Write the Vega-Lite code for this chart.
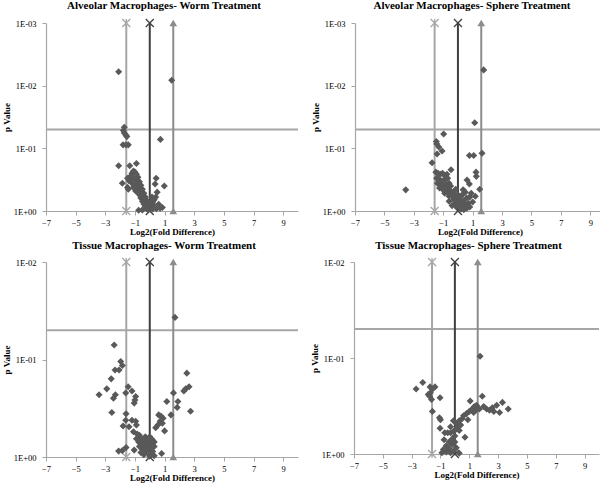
{
  "$schema": "https://vega.github.io/schema/vega-lite/v6.json",
  "background": "white",
  "padding": {"left": 2, "top": 0, "right": 0, "bottom": 0},
  "config": {
    "view": {"stroke": null},
    "title": {"font": "Liberation Serif", "fontSize": 11, "fontWeight": "bold", "color": "#000", "anchor": "middle", "dx": -8, "offset": 4},
    "axis": {"grid": false, "domainColor": "#a6a6a6", "domainWidth": 1.2, "tickColor": "#a6a6a6", "tickSize": 4, "labelFont": "Liberation Serif", "labelFontSize": 8.5, "labelColor": "#000", "titleFont": "Liberation Serif", "titleFontSize": 9, "titleFontWeight": "bold", "titleColor": "#000", "labelOverlap": false, "labelFlush": false, "labelBound": false},
    "axisX": {"labelPadding": 3, "titlePadding": 1},
    "axisY": {"labelPadding": 6, "titlePadding": 2}
  },
  "datasets": {
    "hline": [{"p": 0.05}],
    "vA": [
      {"x": -1.585, "p": 1, "s": "L"}, {"x": -1.585, "p": 0.001, "s": "L"},
      {"x": 0, "p": 1, "s": "M"}, {"x": 0, "p": 0.001, "s": "M"},
      {"x": 1.585, "p": 1, "s": "R"}, {"x": 1.585, "p": 0.001, "s": "R"}
    ],
    "vB": [
      {"x": -1.585, "p": 1, "s": "L"}, {"x": -1.585, "p": 0.01, "s": "L"},
      {"x": 0, "p": 1, "s": "M"}, {"x": 0, "p": 0.01, "s": "M"},
      {"x": 1.585, "p": 1, "s": "R"}, {"x": 1.585, "p": 0.01, "s": "R"}
    ],
    "amw": [
      {"x": -2.1, "p": 0.006}, {"x": 1.48, "p": 0.0082}, {"x": -1.72, "p": 0.046}, {"x": -1.78, "p": 0.052},
      {"x": -1.72, "p": 0.057}, {"x": -1.6, "p": 0.062}, {"x": -1.55, "p": 0.065}, {"x": -1.8, "p": 0.088},
      {"x": -1.6, "p": 0.088}, {"x": -1.45, "p": 0.088}, {"x": 0.72, "p": 0.072}, {"x": -2.1, "p": 0.19},
      {"x": -1.35, "p": 0.19}, {"x": -0.9, "p": 0.175}, {"x": -1.85, "p": 0.36}, {"x": -1.5, "p": 0.42},
      {"x": 0.43, "p": 0.3}, {"x": 0.36, "p": 0.37}, {"x": 0.98, "p": 0.4}, {"x": -1.45, "p": 0.45},
      {"x": -1.3, "p": 0.28}, {"x": -1.2, "p": 0.25}, {"x": -1.1, "p": 0.23}, {"x": -1.0, "p": 0.24},
      {"x": -0.9, "p": 0.26}, {"x": -1.25, "p": 0.32}, {"x": -1.1, "p": 0.3}, {"x": -0.95, "p": 0.31},
      {"x": -0.8, "p": 0.29}, {"x": -1.4, "p": 0.33}, {"x": -1.5, "p": 0.3}, {"x": -1.2, "p": 0.36},
      {"x": -1.0, "p": 0.37}, {"x": -0.85, "p": 0.35}, {"x": -0.7, "p": 0.34}, {"x": -1.1, "p": 0.42},
      {"x": -0.9, "p": 0.43}, {"x": -0.75, "p": 0.4}, {"x": -0.6, "p": 0.39}, {"x": -0.95, "p": 0.48},
      {"x": -0.8, "p": 0.5}, {"x": -0.65, "p": 0.47}, {"x": -0.5, "p": 0.45}, {"x": -0.7, "p": 0.55},
      {"x": -0.55, "p": 0.56}, {"x": -0.4, "p": 0.52}, {"x": -0.6, "p": 0.62}, {"x": -0.45, "p": 0.63},
      {"x": -0.3, "p": 0.6}, {"x": -0.5, "p": 0.7}, {"x": -0.35, "p": 0.7}, {"x": -0.2, "p": 0.68},
      {"x": -0.4, "p": 0.77}, {"x": -0.25, "p": 0.78}, {"x": -0.1, "p": 0.75}, {"x": -0.3, "p": 0.84},
      {"x": -0.15, "p": 0.85}, {"x": 0.0, "p": 0.82}, {"x": 0.1, "p": 0.78}, {"x": 0.2, "p": 0.72},
      {"x": 0.3, "p": 0.66}, {"x": 0.4, "p": 0.6}, {"x": 0.25, "p": 0.8}, {"x": 0.1, "p": 0.88},
      {"x": -0.05, "p": 0.9}, {"x": -0.2, "p": 0.92}, {"x": -0.75, "p": 0.97}, {"x": -0.5, "p": 0.96},
      {"x": -0.1, "p": 0.96}, {"x": 0.2, "p": 0.93}, {"x": 0.45, "p": 0.92}, {"x": 0.7, "p": 0.9},
      {"x": 0.85, "p": 0.88}, {"x": 0.6, "p": 0.78}, {"x": 0.5, "p": 0.5}, {"x": 0.15, "p": 0.6}
    ],
    "ams": [
      {"x": 1.75, "p": 0.0056}, {"x": 1.14, "p": 0.039}, {"x": -0.97, "p": 0.059}, {"x": -1.47, "p": 0.078},
      {"x": -1.44, "p": 0.085}, {"x": -1.42, "p": 0.123}, {"x": -1.08, "p": 0.11}, {"x": -1.3, "p": 0.095},
      {"x": 0.78, "p": 0.13}, {"x": 1.07, "p": 0.13}, {"x": 1.64, "p": 0.12}, {"x": -1.76, "p": 0.17},
      {"x": -3.55, "p": 0.46}, {"x": -0.47, "p": 0.22}, {"x": 1.23, "p": 0.24}, {"x": 1.25, "p": 0.28},
      {"x": 0.62, "p": 0.32}, {"x": 1.48, "p": 0.45}, {"x": 1.18, "p": 0.58}, {"x": 0.78, "p": 0.37},
      {"x": -1.5, "p": 0.24}, {"x": -1.35, "p": 0.25}, {"x": -1.2, "p": 0.26}, {"x": -1.05, "p": 0.25},
      {"x": -0.9, "p": 0.27}, {"x": -0.75, "p": 0.26}, {"x": -1.45, "p": 0.3}, {"x": -1.3, "p": 0.31},
      {"x": -1.1, "p": 0.33}, {"x": -0.95, "p": 0.32}, {"x": -0.7, "p": 0.3}, {"x": -1.4, "p": 0.36},
      {"x": -1.2, "p": 0.38}, {"x": -1.0, "p": 0.39}, {"x": -0.8, "p": 0.37}, {"x": -0.6, "p": 0.36},
      {"x": -1.25, "p": 0.43}, {"x": -1.05, "p": 0.45}, {"x": -0.85, "p": 0.44}, {"x": -0.65, "p": 0.42},
      {"x": -0.5, "p": 0.4}, {"x": -0.9, "p": 0.52}, {"x": -0.7, "p": 0.5}, {"x": -0.5, "p": 0.48},
      {"x": -0.3, "p": 0.5}, {"x": -0.6, "p": 0.58}, {"x": -0.4, "p": 0.57}, {"x": -0.2, "p": 0.55},
      {"x": 0.0, "p": 0.55}, {"x": -0.3, "p": 0.65}, {"x": -0.1, "p": 0.66}, {"x": 0.1, "p": 0.62},
      {"x": 0.3, "p": 0.55}, {"x": 0.5, "p": 0.5}, {"x": -0.2, "p": 0.75}, {"x": 0.0, "p": 0.74},
      {"x": 0.2, "p": 0.72}, {"x": 0.4, "p": 0.68}, {"x": 0.6, "p": 0.62}, {"x": 0.8, "p": 0.6},
      {"x": -0.1, "p": 0.84}, {"x": 0.1, "p": 0.85}, {"x": 0.3, "p": 0.82}, {"x": 0.5, "p": 0.8},
      {"x": 0.7, "p": 0.75}, {"x": 0.2, "p": 0.94}, {"x": 0.4, "p": 0.95}, {"x": 0.6, "p": 0.9},
      {"x": 0.8, "p": 0.86}, {"x": -0.4, "p": 0.82}, {"x": -0.6, "p": 0.7}, {"x": 1.0, "p": 0.72},
      {"x": 0.35, "p": 0.46}, {"x": -0.15, "p": 0.45}, {"x": 0.9, "p": 0.52}
    ],
    "tmw": [
      {"x": 1.7, "p": 0.037}, {"x": -2.4, "p": 0.071}, {"x": -1.96, "p": 0.105}, {"x": -1.85, "p": 0.115},
      {"x": -2.34, "p": 0.128}, {"x": -2.07, "p": 0.128}, {"x": -2.6, "p": 0.158}, {"x": 2.5, "p": 0.138},
      {"x": -1.46, "p": 0.19}, {"x": -1.2, "p": 0.21}, {"x": -1.62, "p": 0.22}, {"x": -2.9, "p": 0.2},
      {"x": -3.42, "p": 0.23}, {"x": -2.32, "p": 0.23}, {"x": -2.45, "p": 0.25}, {"x": -0.95, "p": 0.24},
      {"x": -1.05, "p": 0.28}, {"x": -1.0, "p": 0.26}, {"x": -2.56, "p": 0.35}, {"x": -1.6, "p": 0.36},
      {"x": 2.43, "p": 0.2}, {"x": 2.65, "p": 0.19}, {"x": 2.3, "p": 0.21}, {"x": 1.6, "p": 0.22},
      {"x": 1.9, "p": 0.27}, {"x": 1.85, "p": 0.31}, {"x": 1.15, "p": 0.27}, {"x": 2.75, "p": 0.34},
      {"x": 1.43, "p": 0.37}, {"x": 0.6, "p": 0.37}, {"x": 0.75, "p": 0.38}, {"x": 0.9, "p": 0.4},
      {"x": 0.7, "p": 0.43}, {"x": 0.85, "p": 0.45}, {"x": 0.55, "p": 0.47}, {"x": 1.0, "p": 0.54},
      {"x": 0.4, "p": 0.5}, {"x": -1.62, "p": 0.42}, {"x": -1.2, "p": 0.42}, {"x": -0.95, "p": 0.43},
      {"x": -1.8, "p": 0.48}, {"x": -1.4, "p": 0.49}, {"x": -0.9, "p": 0.47}, {"x": -1.1, "p": 0.55},
      {"x": -0.85, "p": 0.58}, {"x": -0.7, "p": 0.6}, {"x": -0.6, "p": 0.64}, {"x": -0.5, "p": 0.68},
      {"x": -0.4, "p": 0.7}, {"x": -0.9, "p": 0.65}, {"x": -0.75, "p": 0.7}, {"x": -0.55, "p": 0.75},
      {"x": -0.3, "p": 0.62}, {"x": -0.2, "p": 0.66}, {"x": 0.0, "p": 0.62}, {"x": 0.15, "p": 0.66},
      {"x": -0.1, "p": 0.72}, {"x": 0.1, "p": 0.74}, {"x": 0.3, "p": 0.7}, {"x": -0.3, "p": 0.78},
      {"x": -0.1, "p": 0.8}, {"x": 0.1, "p": 0.82}, {"x": 0.3, "p": 0.78}, {"x": -0.5, "p": 0.83},
      {"x": -0.25, "p": 0.86}, {"x": 0.0, "p": 0.9}, {"x": 0.2, "p": 0.88}, {"x": -0.7, "p": 0.78},
      {"x": -2.1, "p": 0.87}, {"x": -1.85, "p": 0.86}, {"x": -1.6, "p": 0.8}, {"x": -1.05, "p": 0.85},
      {"x": -0.6, "p": 0.9}, {"x": 0.0, "p": 0.98}, {"x": 0.3, "p": 0.97}, {"x": 0.8, "p": 0.92},
      {"x": -0.4, "p": 0.95}
    ],
    "tms": [
      {"x": 1.75, "p": 0.096}, {"x": -2.69, "p": 0.21}, {"x": -2.23, "p": 0.18}, {"x": -1.72, "p": 0.2},
      {"x": -1.38, "p": 0.2}, {"x": -1.55, "p": 0.21}, {"x": -1.85, "p": 0.24}, {"x": -1.75, "p": 0.25},
      {"x": -1.62, "p": 0.27}, {"x": -1.7, "p": 0.23}, {"x": -1.03, "p": 0.26}, {"x": -1.56, "p": 0.36},
      {"x": -1.07, "p": 0.42}, {"x": -1.03, "p": 0.54}, {"x": -0.75, "p": 0.71}, {"x": -0.7, "p": 0.6},
      {"x": -0.5, "p": 0.6}, {"x": -0.3, "p": 0.6}, {"x": -0.1, "p": 0.58}, {"x": 0.1, "p": 0.55},
      {"x": -0.1, "p": 0.45}, {"x": 0.1, "p": 0.48}, {"x": 0.3, "p": 0.45}, {"x": 0.5, "p": 0.43},
      {"x": 0.6, "p": 0.4}, {"x": 0.8, "p": 0.38}, {"x": 1.0, "p": 0.36}, {"x": 1.06, "p": 0.28},
      {"x": 1.2, "p": 0.34}, {"x": 1.35, "p": 0.32}, {"x": 1.5, "p": 0.31}, {"x": 1.6, "p": 0.33},
      {"x": 1.45, "p": 0.35}, {"x": 1.3, "p": 0.37}, {"x": 1.7, "p": 0.34}, {"x": 1.9, "p": 0.25},
      {"x": 2.0, "p": 0.32}, {"x": 2.2, "p": 0.34}, {"x": 2.4, "p": 0.35}, {"x": 2.6, "p": 0.33},
      {"x": 2.9, "p": 0.31}, {"x": 3.3, "p": 0.29}, {"x": 3.7, "p": 0.34}, {"x": 3.1, "p": 0.37},
      {"x": 2.7, "p": 0.36}, {"x": 0.3, "p": 0.57}, {"x": 0.7, "p": 0.67}, {"x": 0.2, "p": 0.52},
      {"x": 0.4, "p": 0.5}, {"x": 0.0, "p": 0.65}, {"x": -0.2, "p": 0.7}, {"x": -0.4, "p": 0.75},
      {"x": -0.6, "p": 0.82}, {"x": -0.8, "p": 0.9}, {"x": -0.9, "p": 0.97}, {"x": -0.6, "p": 0.95},
      {"x": -0.4, "p": 0.88}, {"x": -0.2, "p": 0.8}, {"x": 0.0, "p": 0.75}, {"x": -0.3, "p": 0.97},
      {"x": -0.1, "p": 0.93}, {"x": 0.1, "p": 0.86}, {"x": 0.3, "p": 0.98}, {"x": -1.0, "p": 0.44},
      {"x": -0.3, "p": 0.52}, {"x": 0.9, "p": 0.44}
    ]
  },
  "vconcat": [
    {
      "hconcat": [
        {
          "title": {"text": "Alveolar Macrophages- Worm Treatment", "offset": 5},
          "width": 252, "height": 188,
          "layer": [
            {"data": {"name": "hline"}, "mark": {"type": "rule", "color": "#a6a6a6", "strokeWidth": 2},
             "encoding": {"y": {"field": "p", "type": "quantitative", "scale": {"type": "log", "domain": [0.001, 1], "reverse": true, "nice": false}, "axis": {"values": [0.001, 0.01, 0.1, 1], "tickCount": 10, "labelExpr": "datum.value < 0.005 ? '1E-03' : datum.value < 0.05 ? '1E-02' : datum.value < 0.5 ? '1E-01' : '1E+00'", "title": "p Value"}}}},
            {"data": {"name": "vA"}, "mark": {"type": "line", "strokeWidth": 2},
             "encoding": {"x": {"field": "x", "type": "quantitative", "scale": {"domain": [-7, 10], "nice": false, "zero": false}, "axis": {"values": [-7, -5, -3, -1, 1, 3, 5, 7, 9], "tickCount": 20, "labelOverlap": false, "title": "Log2(Fold Difference)"}},
                          "y": {"field": "p", "type": "quantitative"},
                          "color": {"field": "s", "type": "nominal", "scale": {"domain": ["L", "M", "R"], "range": ["#a6a6a6", "#3f3f3f", "#8c8c8c"]}, "legend": null}}},
            {"data": {"name": "vA"}, "transform": [{"filter": "datum.s !== 'R'"}],
             "mark": {"type": "point", "filled": false, "strokeWidth": 1.3, "size": 64, "opacity": 1},
             "encoding": {"x": {"field": "x", "type": "quantitative"}, "y": {"field": "p", "type": "quantitative"},
                          "shape": {"field": "s", "type": "nominal", "scale": {"domain": ["L", "M"], "range": ["M-1,-1L1,1M-1,1L1,-1M0,-1L0,1", "M-1,-1L1,1M-1,1L1,-1"]}, "legend": null},
                          "color": {"field": "s", "type": "nominal", "legend": null}}},
            {"data": {"name": "vA"}, "transform": [{"filter": "datum.s === 'R'"}],
             "mark": {"type": "point", "filled": true, "shape": "triangle-up", "size": 60, "opacity": 1, "color": "#8c8c8c"},
             "encoding": {"x": {"field": "x", "type": "quantitative"}, "y": {"field": "p", "type": "quantitative"}}},
            {"data": {"name": "amw"}, "mark": {"type": "point", "shape": "diamond", "filled": true, "size": 50, "opacity": 1, "color": "#595959"},
             "encoding": {"x": {"field": "x", "type": "quantitative"}, "y": {"field": "p", "type": "quantitative"}}}
          ]
        },
        {
          "title": {"text": "Alveolar Macrophages- Sphere Treatment", "offset": 5},
          "width": 250, "height": 188,
          "layer": [
            {"data": {"name": "hline"}, "mark": {"type": "rule", "color": "#a6a6a6", "strokeWidth": 2},
             "encoding": {"y": {"field": "p", "type": "quantitative", "scale": {"type": "log", "domain": [0.001, 1], "reverse": true, "nice": false}, "axis": {"values": [0.001, 0.01, 0.1, 1], "tickCount": 10, "labelExpr": "datum.value < 0.005 ? '1E-03' : datum.value < 0.05 ? '1E-02' : datum.value < 0.5 ? '1E-01' : '1E+00'", "title": "p Value"}}}},
            {"data": {"name": "vA"}, "mark": {"type": "line", "strokeWidth": 2},
             "encoding": {"x": {"field": "x", "type": "quantitative", "scale": {"domain": [-7, 10], "nice": false, "zero": false}, "axis": {"values": [-7, -5, -3, -1, 1, 3, 5, 7, 9], "tickCount": 20, "labelOverlap": false, "title": "Log2(Fold Difference)"}},
                          "y": {"field": "p", "type": "quantitative"},
                          "color": {"field": "s", "type": "nominal", "scale": {"domain": ["L", "M", "R"], "range": ["#a6a6a6", "#3f3f3f", "#8c8c8c"]}, "legend": null}}},
            {"data": {"name": "vA"}, "transform": [{"filter": "datum.s !== 'R'"}],
             "mark": {"type": "point", "filled": false, "strokeWidth": 1.3, "size": 64, "opacity": 1},
             "encoding": {"x": {"field": "x", "type": "quantitative"}, "y": {"field": "p", "type": "quantitative"},
                          "shape": {"field": "s", "type": "nominal", "scale": {"domain": ["L", "M"], "range": ["M-1,-1L1,1M-1,1L1,-1M0,-1L0,1", "M-1,-1L1,1M-1,1L1,-1"]}, "legend": null},
                          "color": {"field": "s", "type": "nominal", "legend": null}}},
            {"data": {"name": "vA"}, "transform": [{"filter": "datum.s === 'R'"}],
             "mark": {"type": "point", "filled": true, "shape": "triangle-up", "size": 60, "opacity": 1, "color": "#8c8c8c"},
             "encoding": {"x": {"field": "x", "type": "quantitative"}, "y": {"field": "p", "type": "quantitative"}}},
            {"data": {"name": "ams"}, "mark": {"type": "point", "shape": "diamond", "filled": true, "size": 50, "opacity": 1, "color": "#595959"},
             "encoding": {"x": {"field": "x", "type": "quantitative"}, "y": {"field": "p", "type": "quantitative"}}}
          ]
        }
      ],
      "spacing": 12
    },
    {
      "hconcat": [
        {
          "title": "Tissue Macrophages- Worm Treatment",
          "width": 252, "height": 195,
          "layer": [
            {"data": {"name": "hline"}, "mark": {"type": "rule", "color": "#a6a6a6", "strokeWidth": 2},
             "encoding": {"y": {"field": "p", "type": "quantitative", "scale": {"type": "log", "domain": [0.01, 1], "reverse": true, "nice": false}, "axis": {"values": [0.01, 0.1, 1], "tickCount": 10, "labelExpr": "datum.value < 0.05 ? '1E-02' : datum.value < 0.5 ? '1E-01' : '1E+00'", "title": "p Value"}}}},
            {"data": {"name": "vB"}, "mark": {"type": "line", "strokeWidth": 2},
             "encoding": {"x": {"field": "x", "type": "quantitative", "scale": {"domain": [-7, 10], "nice": false, "zero": false}, "axis": {"values": [-7, -5, -3, -1, 1, 3, 5, 7, 9], "tickCount": 20, "labelOverlap": false, "title": "Log2(Fold Difference)"}},
                          "y": {"field": "p", "type": "quantitative"},
                          "color": {"field": "s", "type": "nominal", "scale": {"domain": ["L", "M", "R"], "range": ["#a6a6a6", "#3f3f3f", "#8c8c8c"]}, "legend": null}}},
            {"data": {"name": "vB"}, "transform": [{"filter": "datum.s !== 'R'"}],
             "mark": {"type": "point", "filled": false, "strokeWidth": 1.3, "size": 64, "opacity": 1},
             "encoding": {"x": {"field": "x", "type": "quantitative"}, "y": {"field": "p", "type": "quantitative"},
                          "shape": {"field": "s", "type": "nominal", "scale": {"domain": ["L", "M"], "range": ["M-1,-1L1,1M-1,1L1,-1M0,-1L0,1", "M-1,-1L1,1M-1,1L1,-1"]}, "legend": null},
                          "color": {"field": "s", "type": "nominal", "legend": null}}},
            {"data": {"name": "vB"}, "transform": [{"filter": "datum.s === 'R'"}],
             "mark": {"type": "point", "filled": true, "shape": "triangle-up", "size": 60, "opacity": 1, "color": "#8c8c8c"},
             "encoding": {"x": {"field": "x", "type": "quantitative"}, "y": {"field": "p", "type": "quantitative"}}},
            {"data": {"name": "tmw"}, "mark": {"type": "point", "shape": "diamond", "filled": true, "size": 50, "opacity": 1, "color": "#595959"},
             "encoding": {"x": {"field": "x", "type": "quantitative"}, "y": {"field": "p", "type": "quantitative"}}}
          ]
        },
        {
          "title": "Tissue Macrophages- Sphere Treatment",
          "width": 245, "height": 192,
          "layer": [
            {"data": {"name": "hline"}, "mark": {"type": "rule", "color": "#a6a6a6", "strokeWidth": 2},
             "encoding": {"y": {"field": "p", "type": "quantitative", "scale": {"type": "log", "domain": [0.01, 1], "reverse": true, "nice": false}, "axis": {"values": [0.01, 0.1, 1], "tickCount": 10, "labelExpr": "datum.value < 0.05 ? '1E-02' : datum.value < 0.5 ? '1E-01' : '1E+00'", "title": "p Value"}}}},
            {"data": {"name": "vB"}, "mark": {"type": "line", "strokeWidth": 2},
             "encoding": {"x": {"field": "x", "type": "quantitative", "scale": {"domain": [-7, 10], "nice": false, "zero": false}, "axis": {"values": [-7, -5, -3, -1, 1, 3, 5, 7, 9], "tickCount": 20, "labelOverlap": false, "title": "Log2(Fold Difference)"}},
                          "y": {"field": "p", "type": "quantitative"},
                          "color": {"field": "s", "type": "nominal", "scale": {"domain": ["L", "M", "R"], "range": ["#a6a6a6", "#3f3f3f", "#8c8c8c"]}, "legend": null}}},
            {"data": {"name": "vB"}, "transform": [{"filter": "datum.s !== 'R'"}],
             "mark": {"type": "point", "filled": false, "strokeWidth": 1.3, "size": 64, "opacity": 1},
             "encoding": {"x": {"field": "x", "type": "quantitative"}, "y": {"field": "p", "type": "quantitative"},
                          "shape": {"field": "s", "type": "nominal", "scale": {"domain": ["L", "M"], "range": ["M-1,-1L1,1M-1,1L1,-1M0,-1L0,1", "M-1,-1L1,1M-1,1L1,-1"]}, "legend": null},
                          "color": {"field": "s", "type": "nominal", "legend": null}}},
            {"data": {"name": "vB"}, "transform": [{"filter": "datum.s === 'R'"}],
             "mark": {"type": "point", "filled": true, "shape": "triangle-up", "size": 60, "opacity": 1, "color": "#8c8c8c"},
             "encoding": {"x": {"field": "x", "type": "quantitative"}, "y": {"field": "p", "type": "quantitative"}}},
            {"data": {"name": "tms"}, "mark": {"type": "point", "shape": "diamond", "filled": true, "size": 50, "opacity": 1, "color": "#595959"},
             "encoding": {"x": {"field": "x", "type": "quantitative"}, "y": {"field": "p", "type": "quantitative"}}}
          ]
        }
      ],
      "spacing": 11
    }
  ],
  "spacing": 3
}
